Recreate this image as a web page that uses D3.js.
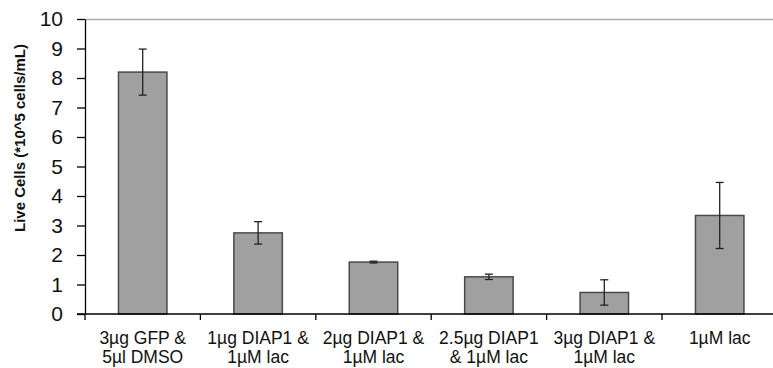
<!DOCTYPE html>
<html>
<head>
<meta charset="utf-8">
<script src="https://cdn.jsdelivr.net/npm/d3@7"></script>
<style>
  body { margin: 0; background: #fff; }
  svg { display: block; font-family: "Liberation Sans", Arial, sans-serif; }
</style>
</head>
<body>
<svg id="chart"></svg>
<script>
const categories = [
    ["3µg GFP &", "5µl DMSO"],
    ["1µg DIAP1 &", "1µM lac"],
    ["2µg DIAP1 &", "1µM lac"],
    ["2.5µg DIAP1", "& 1µM lac"],
    ["3µg DIAP1 &", "1µM lac"],
    ["1µM lac"]
];
const values = [8.2, 2.75, 1.76, 1.26, 0.73, 3.34];
const errors = [0.78, 0.38, 0.03, 0.09, 0.43, 1.12];
const yTicks = [0, 1, 2, 3, 4, 5, 6, 7, 8, 9, 10];

const W = 773, H = 368;
const svg = d3.select("#chart").attr("width", W).attr("height", H);

const plotLeft = 85, plotTop = 19, plotBottom = 314;
const step = 115.4;

const x = d3.scaleBand()
    .domain(d3.range(categories.length))
    .range([plotLeft, plotLeft + step * categories.length])
    .paddingInner(0.58)
    .paddingOuter(0.29);
const y = d3.scaleLinear().domain([0, 10]).range([plotBottom, plotTop]);

// top border
svg.append("line")
    .attr("x1", plotLeft).attr("x2", W)
    .attr("y1", plotTop + 0.5).attr("y2", plotTop + 0.5)
    .attr("stroke", "#aaa").attr("stroke-width", 1.5);

// bars
svg.selectAll("rect.bar")
    .data(values)
    .enter().append("rect")
    .attr("class", "bar")
    .attr("x", (d, i) => x(i))
    .attr("y", d => y(d))
    .attr("width", x.bandwidth())
    .attr("height", d => y(0) - y(d))
    .attr("fill", "#a0a0a0")
    .attr("stroke", "#4a4a4a")
    .attr("stroke-width", 1.5);

// error bars
const eb = svg.selectAll("g.err")
    .data(values)
    .enter().append("g")
    .attr("class", "err")
    .attr("stroke", "#222")
    .attr("stroke-width", 1.3);
eb.append("line")
    .attr("x1", (d, i) => x(i) + x.bandwidth() / 2)
    .attr("x2", (d, i) => x(i) + x.bandwidth() / 2)
    .attr("y1", (d, i) => y(d + errors[i]))
    .attr("y2", (d, i) => y(d - errors[i]));
[1, -1].forEach(s => {
    eb.append("line")
        .attr("x1", (d, i) => x(i) + x.bandwidth() / 2 - 4)
        .attr("x2", (d, i) => x(i) + x.bandwidth() / 2 + 4)
        .attr("y1", (d, i) => y(d + s * errors[i]))
        .attr("y2", (d, i) => y(d + s * errors[i]));
});

// y axis
const yAxis = svg.append("g")
    .attr("transform", `translate(${plotLeft},0)`)
    .call(d3.axisLeft(y).tickValues(yTicks).tickSize(8).tickPadding(14).tickSizeOuter(0));
yAxis.select(".domain").attr("stroke", "#000").attr("stroke-width", 1.3);
yAxis.selectAll(".tick line").attr("stroke", "#000").attr("stroke-width", 1.3);
yAxis.selectAll(".tick text")
    .attr("font-size", 21)
    .attr("font-family", "Liberation Sans, Arial, sans-serif")
    .attr("fill", "#111");

// x axis
svg.append("line")
    .attr("x1", plotLeft - 8).attr("x2", W)
    .attr("y1", plotBottom).attr("y2", plotBottom)
    .attr("stroke", "#000").attr("stroke-width", 1.3);
svg.selectAll("line.xtick")
    .data(d3.range(categories.length))
    .enter().append("line")
    .attr("class", "xtick")
    .attr("x1", i => plotLeft + step * i)
    .attr("x2", i => plotLeft + step * i)
    .attr("y1", plotBottom).attr("y2", plotBottom + 6)
    .attr("stroke", "#000").attr("stroke-width", 1.3);

// category labels
const lab = svg.selectAll("text.cat")
    .data(categories)
    .enter().append("text")
    .attr("class", "cat")
    .attr("text-anchor", "middle")
    .attr("font-size", 17.5)
    .attr("fill", "#111");
lab.selectAll("tspan")
    .data((d, i) => d.map(t => ({ t, i })))
    .enter().append("tspan")
    .attr("x", d => x(d.i) + x.bandwidth() / 2)
    .attr("y", (d, j) => 344 + j * 19)
    .text(d => d.t);

// y title
svg.append("text")
    .attr("transform", "translate(25,138) rotate(-90)")
    .attr("text-anchor", "middle")
    .attr("font-size", 15)
    .attr("font-weight", "bold")
    .attr("fill", "#111")
    .text("Live Cells (*10^5 cells/mL)");
</script>
</body>
</html>
